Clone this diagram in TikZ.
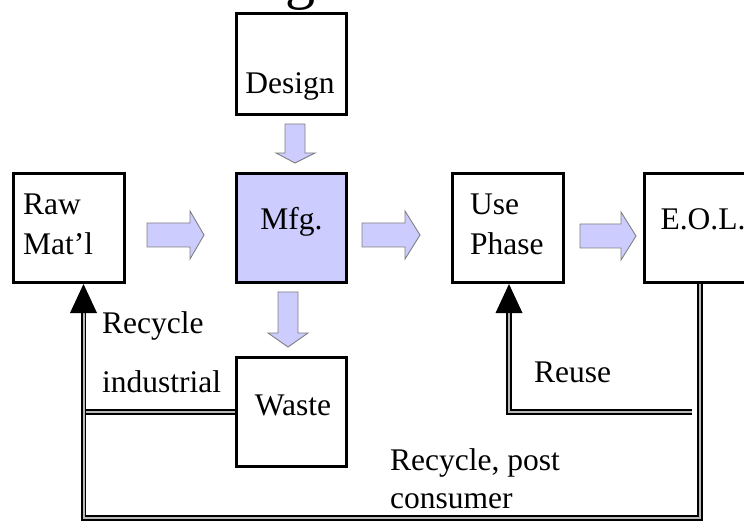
\documentclass[tikz,border=0pt]{standalone}
\usepackage{fontspec}
\setmainfont{Liberation Serif}
\definecolor{lav}{HTML}{CCCCFF}
\begin{document}
\begin{tikzpicture}[x=1pt,y=-1pt,
  box/.style={draw, line width=2.8pt, inner sep=0pt, minimum width=111.4pt, minimum height=109.4pt},
  txt/.style={inner sep=0pt, font=\fontsize{31.5}{40}\selectfont},
  blk/.style={fill=lav, draw=gray, line width=0.9pt, line join=miter},
  dbl/.style={draw, line width=1.6pt, double=gray!55, double distance=2pt},
  tipfill/.style={fill=black}]
\useasboundingbox (0,0) rectangle (744,521);
\fill[white] (0,0) rectangle (744,521);
% boxes
\node[box] (raw) at (69,228) {};
\node[box, minimum width=110.4pt, minimum height=101.4pt] (design) at (291.5,64) {};
\node[box, minimum width=110.4pt, fill=lav] (mfg) at (291.5,228) {};
\node[box, minimum width=110.4pt] (waste) at (291.5,412) {};
\node[box] (use) at (508,228) {};
\node[box] (eol) at (700,228) {};
% texts
\node[txt, anchor=base west, font=\fontsize{60}{60}\selectfont] (gtop) at (285,-2) {g};
\node[txt, anchor=base west] (rawa) at (23,215) {Raw};
\node[txt, anchor=base west] (rawb) at (23,255) {Mat’l};
\node[txt, anchor=base] (designt) at (290,94) {Design};
\node[txt, anchor=base] (mfgt) at (291.5,230) {Mfg.};
\node[txt, anchor=base west] (usea) at (470,215) {Use};
\node[txt, anchor=base west] (useb) at (470,255) {Phase};
\node[txt, anchor=base] (eolt) at (703,230) {E.O.L.};
\node[txt, anchor=base] (wastet) at (293,415) {Waste};
\node[txt, anchor=base west] (rec1) at (102,333) {Recycle};
\node[txt, anchor=base west] (rec2) at (102,392) {industrial};
\node[txt, anchor=base west] (reuse) at (534,382) {Reuse};
\node[txt, anchor=base west] (post1) at (390,470) {Recycle, post};
\node[txt, anchor=base west] (post2) at (390,508) {consumer};
% block arrows
\draw[blk] (147,223) -- (190,223) -- (190,211) -- (204,235) -- (190,259) -- (190,247) -- (147,247) -- cycle;
\draw[blk] (362,223) -- (405,223) -- (405,211) -- (420,235) -- (405,259) -- (405,247) -- (362,247) -- cycle;
\draw[blk] (580,224) -- (621,224) -- (621,212) -- (636,236) -- (621,260) -- (621,248) -- (580,248) -- cycle;
\draw[blk] (285,124) -- (305,124) -- (305,153) -- (315,153) -- (295,163) -- (276,153) -- (285,153) -- cycle;
\draw[blk] (278,292) -- (298,292) -- (298,333) -- (308,333) -- (288,347) -- (268,333) -- (278,333) -- cycle;
% connectors
\coordinate (jl) at (83.5,412);
\coordinate (bl) at (83.5,518);
\coordinate (br) at (700,518);
\coordinate (rawbase) at (83.5,310);
\coordinate (rawtip) at (83.5,284);
\coordinate (ru) at (692,412);
\coordinate (rc) at (509,412);
\coordinate (usebase) at (509,310);
\coordinate (usetip) at (509,284);
\draw[dbl] (waste.west) -- (jl);
\draw[dbl] (eol.south) -- (br) -- (bl) -- (rawbase);
\fill[tipfill] (rawtip) -- ++(-13.5,29) -- ++(27,0) -- cycle;
\draw[dbl] (ru) -- (rc) -- (usebase);
\fill[tipfill] (usetip) -- ++(-13.5,29) -- ++(27,0) -- cycle;
\end{tikzpicture}
\end{document}
